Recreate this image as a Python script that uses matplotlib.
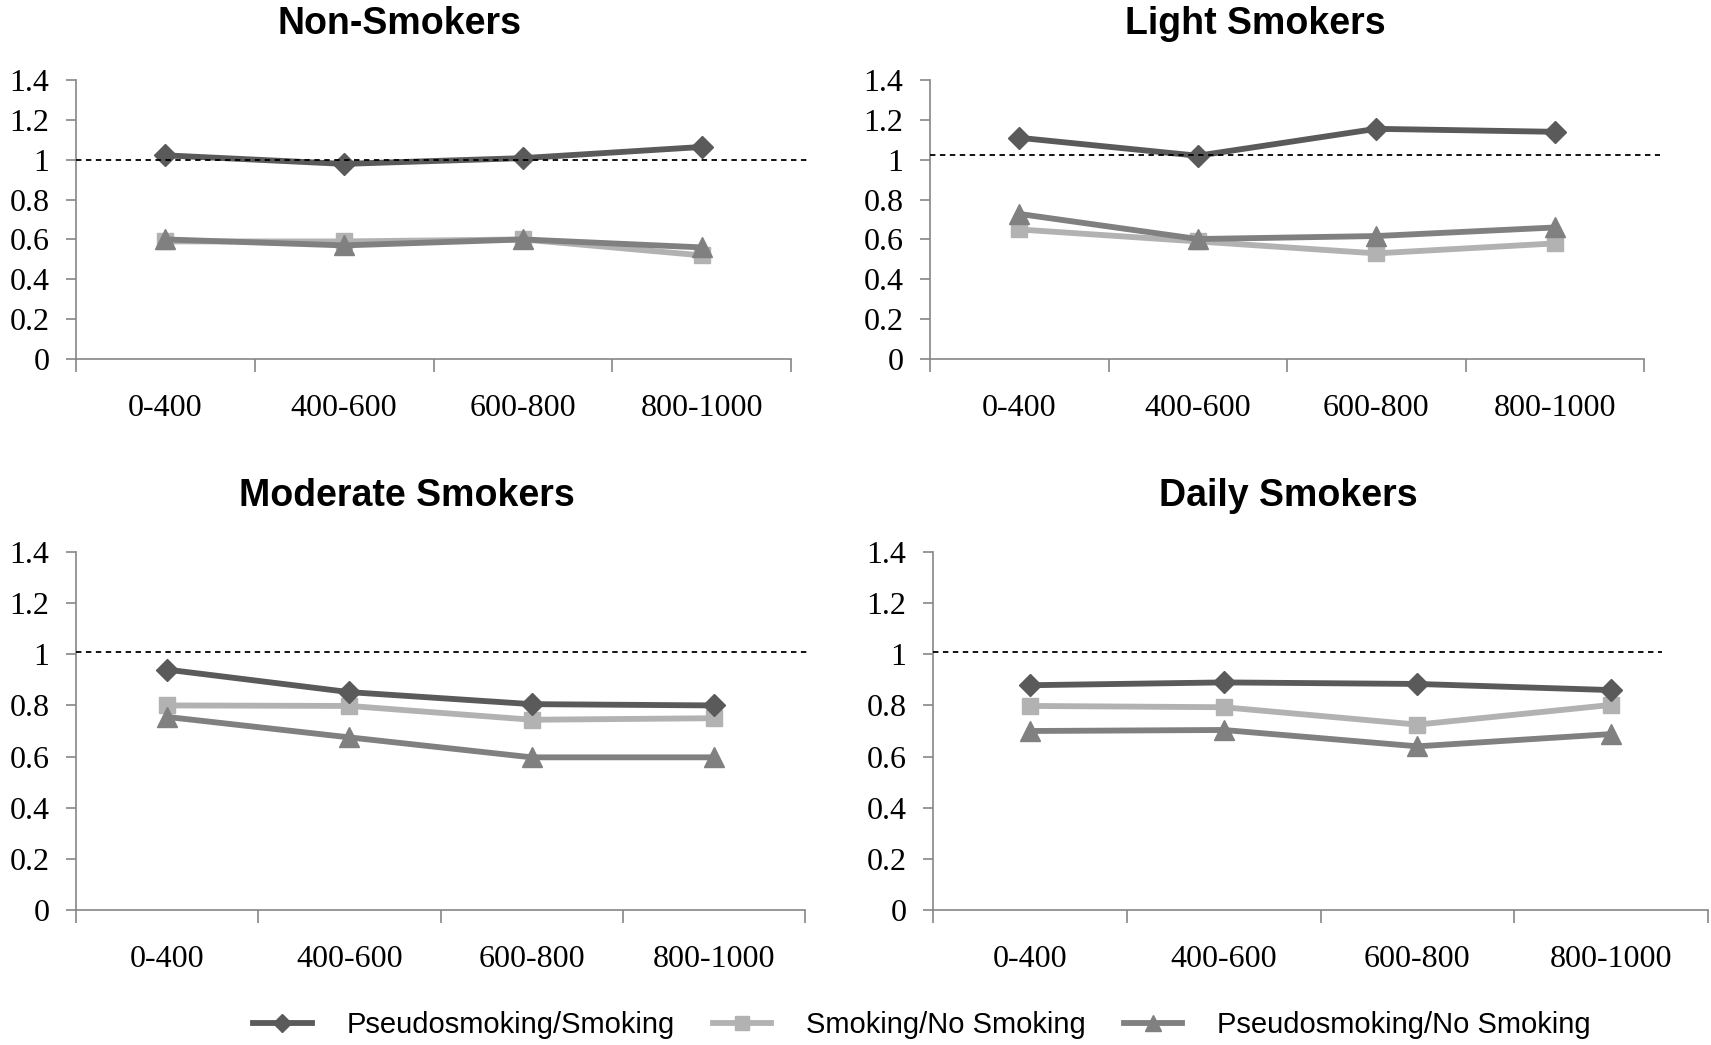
import numpy as np
import matplotlib
matplotlib.use("Agg")
import matplotlib.pyplot as plt
from matplotlib.lines import Line2D

# fasce di intervallo sull'asse x
categorie = ['0-400', '400-600', '600-800', '800-1000']
serie = ['Pseudosmoking/Smoking', 'Smoking/No Smoking', 'Pseudosmoking/No Smoking']

# rapporti per ogni gruppo: (pseudo/smoking, smoking/no smoking, pseudo/no smoking)
non_pseudo_smk = [1.022, 0.979, 1.008, 1.064]
non_smk_nosmk = [0.59, 0.59, 0.60, 0.52]
non_pseudo_nosmk = [0.60, 0.57, 0.60, 0.56]

light_pseudo_smk = [1.11, 1.02, 1.155, 1.14]
light_smk_nosmk = [0.65, 0.59, 0.53, 0.58]
light_pseudo_nosmk = [0.728, 0.602, 0.617, 0.66]

mod_pseudo_smk = [0.94, 0.852, 0.805, 0.80]
mod_smk_nosmk = [0.80, 0.798, 0.744, 0.75]
mod_pseudo_nosmk = [0.755, 0.675, 0.597, 0.597]

daily_pseudo_smk = [0.879, 0.89, 0.884, 0.86]
daily_smk_nosmk = [0.798, 0.793, 0.725, 0.802]
daily_pseudo_nosmk = [0.70, 0.704, 0.64, 0.688]

# livello di riferimento tratteggiato per ogni pannello
rif = [1.0, 1.023, 1.01, 1.01]

titoli = ['Non-Smokers', 'Light Smokers', 'Moderate Smokers', 'Daily Smokers']
dati = [
    (non_pseudo_smk, non_smk_nosmk, non_pseudo_nosmk),
    (light_pseudo_smk, light_smk_nosmk, light_pseudo_nosmk),
    (mod_pseudo_smk, mod_smk_nosmk, mod_pseudo_nosmk),
    (daily_pseudo_smk, daily_smk_nosmk, daily_pseudo_nosmk),
]

colori = ['#5a5a5a', '#b2b2b2', '#808080']
marker = ['D', 's', '^']
msize = [11, 12, 14]

W, H = 1711, 1045
fig = plt.figure(figsize=(W / 100, H / 100), dpi=100)

# rettangoli degli assi in pixel: x0, x1, y_alto, y_basso
box = [(76, 791, 80, 359), (930, 1644, 80, 359),
       (76, 805, 552, 910), (933, 1708, 552, 910)]
# estremo destro della linea tratteggiata (in unita' di categoria)
fine_rif = [4.09, 4.09, 4.01, 3.76]
# posizione dei titoli in pixel
pos_tit = [(400, 24), (1255, 24), (407, 496), (1288, 496)]

x = np.arange(len(categorie)) + 0.5
for k in range(4):
    x0, x1, yt, yb = box[k]
    ax = fig.add_axes([x0 / W, 1 - yb / H, (x1 - x0) / W, (yb - yt) / H])
    for j in range(3):
        ax.plot(x, dati[k][j], color=colori[j], lw=4.2, marker=marker[j],
                ms=msize[j], mec=colori[j], mfc=colori[j], zorder=3 + (j == 0))
    ax.plot([0, fine_rif[k]], [rif[k], rif[k]], ls=(0, (3, 2.5)), color='black',
            lw=1.3, clip_on=False, zorder=5)
    ax.set_xlim(0, 4)
    ax.set_ylim(0, 1.4)
    ax.set_yticks(np.arange(0, 1.41, 0.2))
    ax.set_yticklabels(['0', '0.2', '0.4', '0.6', '0.8', '1', '1.2', '1.4'])
    ax.set_xticks([0, 1, 2, 3, 4])
    ax.set_xticklabels([])
    ax.set_xticks(x, minor=True)
    ax.set_xticklabels(categorie, minor=True)
    ax.tick_params(axis='x', which='minor', length=0, pad=25)
    ax.tick_params(axis='x', which='major', length=9, width=1.2, color='#868686')
    ax.tick_params(axis='y', length=7, width=1.2, color='#868686', pad=12)
    for lab in ax.get_xticklabels(minor=True) + ax.get_yticklabels():
        lab.set_fontfamily('Liberation Serif')
        lab.set_fontsize(23)
    for s in ['top', 'right']:
        ax.spines[s].set_visible(False)
    for s in ['left', 'bottom']:
        ax.spines[s].set_color('#868686')
        ax.spines[s].set_linewidth(1.2)
    tx, ty = pos_tit[k]
    fig.text(tx / W, 1 - ty / H, titoli[k], ha='center', va='center',
             fontsize=27, fontweight='bold', family='Liberation Sans')

maniglie = [Line2D([], [], color=colori[j], lw=4.2, marker=marker[j], ms=msize[j] - 2,
                   mec=colori[j], mfc=colori[j]) for j in range(3)]
fig.legend(maniglie, serie, loc='center', bbox_to_anchor=(922 / W, 1 - 1025 / H),
           ncol=3, frameon=False, prop={'family': 'Liberation Sans', 'size': 21},
           handlelength=2.0, handletextpad=1.2, columnspacing=1.3)

fig.savefig('out.png', dpi=100)
